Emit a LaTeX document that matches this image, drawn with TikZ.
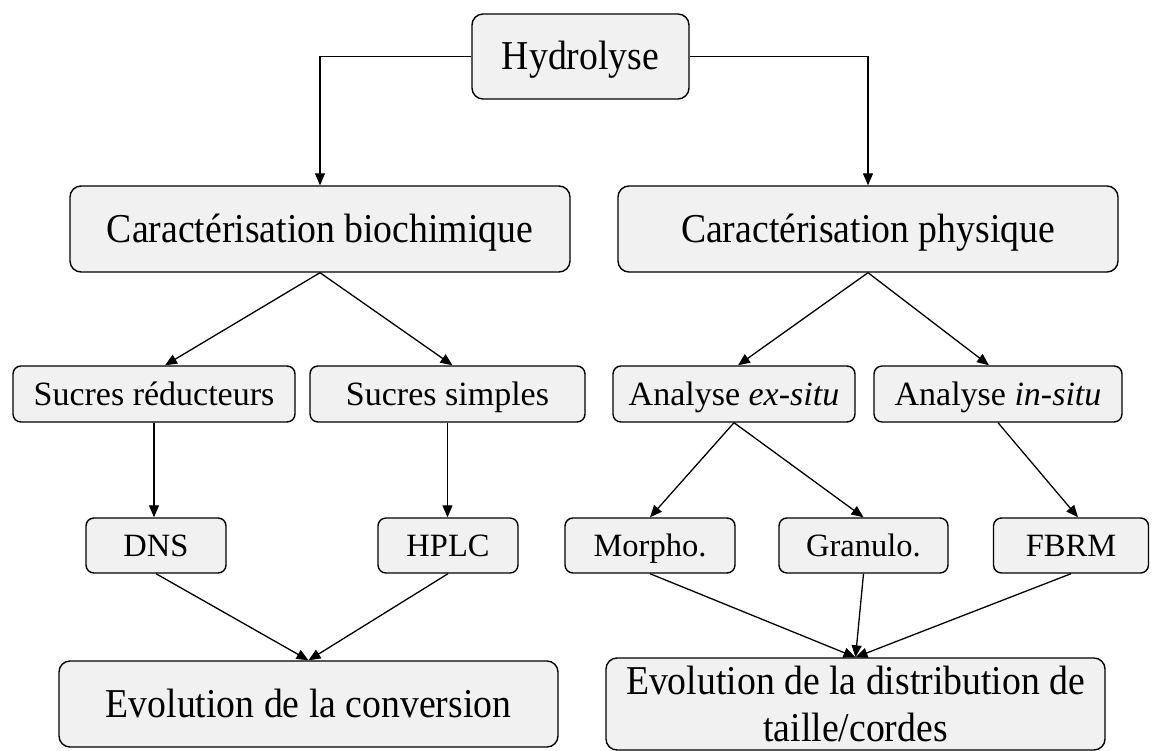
\documentclass[tikz,border=0pt]{standalone}
\usepackage{fontspec}
\setmainfont{Liberation Serif}
\newfontfamily\narrowserif[FakeStretch=0.92]{Liberation Serif}
\usetikzlibrary{arrows.meta}
\definecolor{boxgray}{RGB}{241,241,241}
\newcommand{\bigtext}{\narrowserif\fontsize{41}{47}\selectfont}

\tikzset{
	box/.style={draw, fill=boxgray, line width=1.4pt, rounded corners=8pt, inner sep=0pt, align=center},
	lvlone/.style={box, font=\bigtext, rounded corners=11pt, text height=36pt, text depth=9pt},
	lvltwo/.style={box, font=\fontsize{34}{40}\selectfont, minimum height=56, text height=30pt, text depth=7.5pt},
	lvlthree/.style={box, font=\fontsize{32.5}{38}\selectfont, minimum height=55, text height=28.5pt, text depth=7pt},
	arr/.style={-{Triangle[length=12pt,width=10pt]}, line width=1.3pt}
}

\begin{document}
\begin{tikzpicture}[x=1pt, y=-1pt]
\useasboundingbox (0,0) rectangle (1154,751);

%top
\node[lvlone, minimum width=217, minimum height=85] (hyd) at (580.5,56.5) {Hydrolyse};

%level 1
\node[lvlone, minimum width=500, minimum height=86] (bio) at (320,229) {Caractérisation biochimique};
\node[lvlone, minimum width=500, minimum height=86] (phys) at (868,229) {Caractérisation physique};

%level 2
\node[lvltwo, minimum width=282] (sred) at (154,394) {Sucres réducteurs};
\node[lvltwo, minimum width=275] (ssim) at (447.5,394) {Sucres simples};
\node[lvltwo, minimum width=242] (exs) at (734,394) {Analyse \textit{ex-situ}};
\node[lvltwo, minimum width=248] (ins) at (998,394) {Analyse \textit{in-situ}};

%level 3
\node[lvlthree, minimum width=140] (dns) at (156,545.5) {DNS};
\node[lvlthree, minimum width=140] (hplc) at (448,545.5) {HPLC};
\node[lvlthree, minimum width=170] (morpho) at (650,545.5) {Morpho.};
\node[lvlthree, minimum width=169] (granulo) at (863.5,545.5) {Granulo.};
\node[lvlthree, minimum width=155] (fbrm) at (1071,545.5) {FBRM};

%results
\node[lvlone, minimum width=499, minimum height=86] (conv) at (308.5,704) {Evolution de la conversion};
\node[box, font=\bigtext, rounded corners=11pt, minimum width=499, minimum height=92] (dist) at (855.5,704) {Evolution de la distribution de\\taille/cordes};

%arrows
\draw[arr] (hyd.west) -| (bio.north);
\draw[arr] (hyd.east) -| (phys.north);
\draw[arr] (bio.south) -- ([xshift=11pt]sred.north);
\draw[arr] (bio.south) -- ([xshift=5pt]ssim.north);
\draw[arr] (phys.south) -- ([xshift=4pt]exs.north);
\draw[arr] (phys.south) -- ([xshift=-9pt]ins.north);
\draw[arr] (sred.south) -- (sred.south |- dns.north);
\draw[arr] (ssim.south) -- (ssim.south |- hplc.north);
\draw[arr] (exs.south) -- (morpho.north);
\draw[arr] (exs.south) -- (granulo.north);
\draw[arr] (ins.south) -- ([xshift=7pt]fbrm.north);
\foreach \n in {dns, hplc}
	\draw[arr] (\n.south) -- (conv.north);
\foreach \n in {morpho, granulo, fbrm}
	\draw[arr] (\n.south) -- (dist.north);

\end{tikzpicture}
\end{document}
